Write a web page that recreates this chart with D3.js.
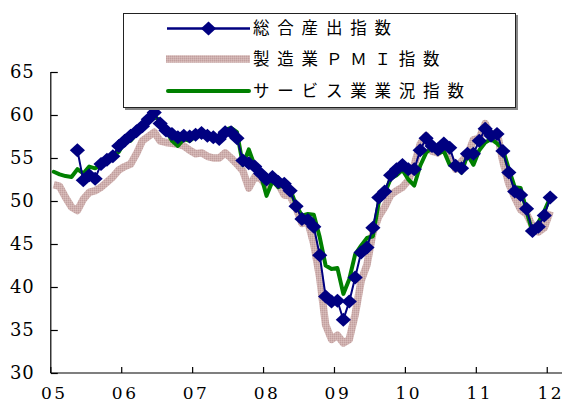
<!DOCTYPE html>
<html><head><meta charset="utf-8">
<script src="https://cdn.jsdelivr.net/npm/d3@7/dist/d3.min.js"></script>
<style>
html,body{margin:0;padding:0;background:#fff;}
svg{display:block;}
</style></head>
<body>
<svg id="chart" width="563" height="412"></svg>
<script>
// ---- data (monthly, Jan 2005 – Jan 2012) ----
const startYear = 2005, nMonths = 85;
const yearLabels = ["05","06","07","08","09","10","11","12"];
const yTicks = [30,35,40,45,50,55,60,65];
const seriesNames = ["総合産出指数","製造業ＰＭＩ指数","サービス業業況指数"];

const composite = [
  null,null,null,null,55.9,52.4,53.0,52.6,54.3,54.8,55.2,56.4,
  57.0,57.6,58.1,58.7,59.5,60.3,59.0,58.2,57.8,57.4,57.6,57.5,
  57.7,57.9,57.6,57.4,57.2,58.0,58.0,57.3,54.7,54.4,54.0,53.2,
  52.5,52.8,52.2,52.0,51.2,49.4,47.9,47.8,47.0,43.7,38.9,38.3,
  38.4,36.2,38.3,41.1,44.0,44.6,46.9,50.4,51.1,53.0,53.7,54.2,
  53.7,53.7,55.9,57.3,56.4,56.0,56.7,56.2,54.1,53.8,55.5,55.5,
  57.0,58.4,57.6,57.8,55.8,53.3,51.1,50.7,49.1,46.5,47.0,48.3,
  50.4
];
const manufacturing = [
  51.9,51.7,50.4,49.3,48.9,50.2,51.0,51.2,51.6,52.2,52.8,53.6,
  54.0,54.3,55.5,57.0,57.5,58.0,57.0,56.8,56.7,56.6,56.4,55.9,
  55.5,55.6,55.2,55.0,55.0,55.6,55.0,54.3,53.5,51.5,52.8,52.6,
  51.8,52.4,52.0,50.7,50.6,49.2,47.4,47.6,45.0,41.1,35.6,33.9,
  34.4,33.5,33.9,36.8,40.7,42.6,46.3,48.2,49.3,50.7,51.2,51.6,
  52.4,54.2,56.6,57.6,55.8,55.6,56.7,55.1,53.7,54.6,55.3,57.1,
  57.3,59.0,57.5,58.0,54.6,52.0,50.4,49.0,48.5,47.1,46.4,46.9,
  48.8
];
const services = [
  53.4,53.1,52.9,52.8,53.7,53.2,54.0,53.8,54.2,55.0,55.2,55.7,
  56.9,57.0,57.8,58.6,59.2,59.8,59.4,58.2,57.0,56.4,57.2,57.0,
  57.5,57.8,57.6,57.4,57.0,58.3,58.5,58.0,54.2,56.0,54.1,53.1,
  50.6,52.3,51.6,52.0,51.4,49.5,48.3,48.5,48.4,45.8,42.5,42.1,
  42.2,39.2,40.9,43.8,44.8,45.7,45.9,49.9,50.9,52.6,53.0,53.6,
  52.5,51.8,54.1,55.6,56.2,55.5,55.8,54.2,54.1,53.3,55.4,54.2,
  55.9,56.8,57.2,56.7,56.0,53.7,51.6,51.5,48.8,46.4,47.5,48.8,
  50.4
];

// ---- layout ----
const svg = d3.select("#chart");
const left = 50.8, bandW = 5.91, axisRight = 562;
const yBottom = 373, yTop = 72;
const serif = '"DejaVu Serif","Liberation Serif",serif';

const categories = d3.range(nMonths).map(i => `${startYear + Math.floor(i/12)}-${String(i%12+1).padStart(2,"0")}`);
const x = d3.scaleBand().domain(categories).range([left, left + nMonths*bandW]).padding(0);
const y = d3.scaleLinear().domain([30,65]).range([yBottom, yTop]);
const cx = c => x(c) + x.bandwidth()/2;

// pattern for the manufacturing line (speckled pink)
const defs = svg.append("defs");
const pat = defs.append("pattern").attr("id","pinkpat").attr("patternUnits","userSpaceOnUse")
  .attr("width",2).attr("height",2);
pat.append("rect").attr("width",2).attr("height",2).attr("fill","#cfb0ae");
pat.append("rect").attr("width",1).attr("height",1).attr("fill","#c19f9f");
pat.append("rect").attr("x",1).attr("y",1).attr("width",1).attr("height",1).attr("fill","#d8bdbb");

// ---- axes ----
const janCats = categories.filter((c,i) => i % 12 === 0);
svg.append("line").attr("x1", left).attr("x2", axisRight).attr("y1", yBottom).attr("y2", yBottom)
  .attr("stroke","#000").attr("stroke-width",1.2);
svg.append("g").selectAll("line").data(janCats).join("line")
  .attr("x1", d => x(d)).attr("x2", d => x(d))
  .attr("y1", yBottom).attr("y2", yBottom - 6)
  .attr("stroke","#000").attr("stroke-width",1.2);
const xLab = d3.axisBottom(x).tickValues(janCats).tickSize(0).tickPadding(14)
  .tickFormat((d,i) => yearLabels[i]);
const gx = svg.append("g").attr("transform",`translate(0,${yBottom})`).call(xLab);
gx.select(".domain").remove();
gx.attr("font-family", serif).attr("font-size", 17);
gx.selectAll("text").style("font-family", serif)
  .style("font-size","17px").attr("fill","#000").style("letter-spacing","2.5px").attr("dx","0.5px");

const yAx = d3.axisLeft(y).tickValues(yTicks).tickSize(-7).tickPadding(16).tickFormat(d3.format("d"));
const gy = svg.append("g").attr("transform",`translate(${left},0)`).call(yAx);
gy.attr("font-family", serif).attr("font-size", 18);
gy.select(".domain").attr("stroke","#000").attr("stroke-width",1.2).attr("d",`M0,${yTop}V${yBottom}`);
gy.selectAll(".tick line").attr("stroke","#000").attr("stroke-width",1.2);
gy.selectAll("text").style("font-family", serif)
  .style("font-size","18px").attr("fill","#000").style("letter-spacing","1px");

// ---- series ----
const line = arr => d3.line()
  .defined((d,i) => arr[i] != null)
  .x((d,i) => cx(categories[i]))
  .y((d,i) => y(arr[i]))(arr);

svg.append("path").attr("d", line(manufacturing)).attr("fill","none")
  .attr("stroke","url(#pinkpat)").attr("stroke-width",7.5).attr("stroke-linejoin","round");
svg.append("path").attr("d", line(services)).attr("fill","none")
  .attr("stroke","#008000").attr("stroke-width",4).attr("stroke-linejoin","round").attr("stroke-linecap","round");
svg.append("path").attr("d", line(composite)).attr("fill","none")
  .attr("stroke","#000080").attr("stroke-width",2);

const diamond = "M0,-7L7.6,0L0,7L-7.6,0Z";
svg.append("g").selectAll("path").data(composite.map((v,i)=>({v,c:categories[i]})).filter(d=>d.v!=null))
  .join("path").attr("d", diamond)
  .attr("transform", d => `translate(${cx(d.c)},${y(d.v)})`)
  .attr("fill","#000080");

// ---- legend ----
const lg = svg.append("g");
lg.append("rect").attr("x",125).attr("y",15).attr("width",393).attr("height",95).attr("fill","#888");
lg.append("rect").attr("x",123.5).attr("y",13.5).attr("width",392).attr("height",94)
  .attr("fill","#fff").attr("stroke","#222").attr("stroke-width",1);
const rows = [28.5, 59, 91];
const lx1 = 167, lx2 = 250;
lg.append("line").attr("x1",lx1).attr("x2",lx2).attr("y1",rows[0]).attr("y2",rows[0])
  .attr("stroke","#000080").attr("stroke-width",2.5);
lg.append("path").attr("d",diamond).attr("transform",`translate(${(lx1+lx2)/2},${rows[0]})`).attr("fill","#000080");
lg.append("line").attr("x1",lx1-1).attr("x2",lx2).attr("y1",rows[1]).attr("y2",rows[1])
  .attr("stroke","url(#pinkpat)").attr("stroke-width",7.5);
lg.append("line").attr("x1",lx1+1).attr("x2",lx2-1).attr("y1",rows[2]).attr("y2",rows[2])
  .attr("stroke","#008000").attr("stroke-width",4).attr("stroke-linecap","round");
lg.selectAll("text.lt").data(seriesNames).join("text").attr("class","lt")
  .attr("x",253).attr("y",(d,i)=>rows[i]).attr("dy","0.36em")
  .style("font-family","'Noto Sans CJK JP','Noto Sans CJK SC',sans-serif")
  .style("font-size","16.5px").attr("fill","#000").style("letter-spacing","7.8px")
  .text(d=>d);
</script>
</body></html>
